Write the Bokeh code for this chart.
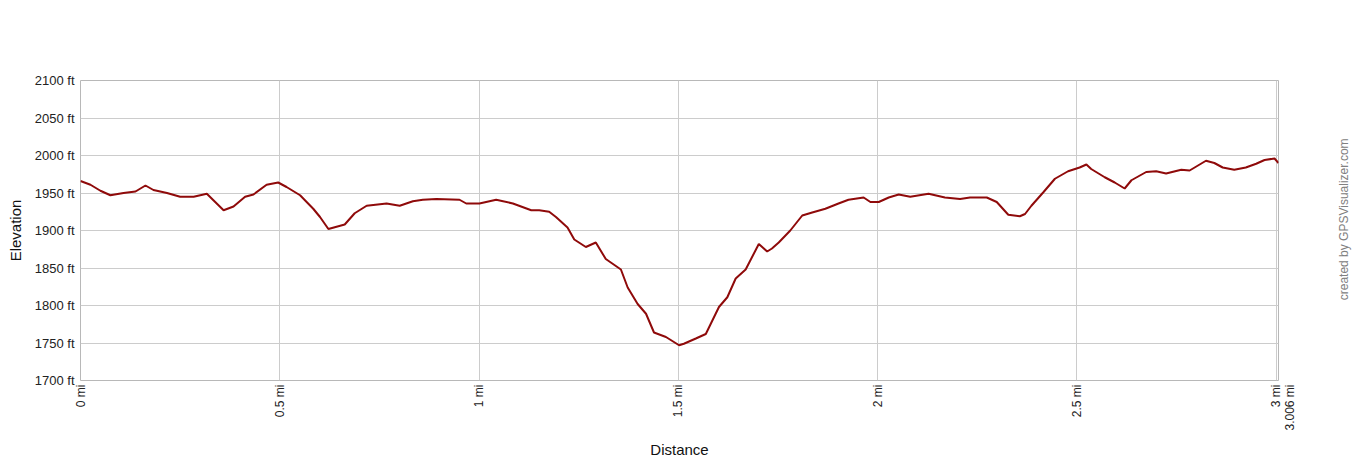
import math
from bokeh.plotting import figure
from bokeh.models import Range1d, FixedTicker, LinearAxis, ColumnDataSource
from bokeh.embed import file_html
from bokeh.resources import INLINE

# Data
distance_mi = [0.000, 0.025, 0.050, 0.075, 0.108, 0.138, 0.163, 0.183, 0.217, 0.250,
               0.284, 0.317, 0.338, 0.359, 0.384, 0.413, 0.434, 0.467, 0.496, 0.517,
               0.551, 0.584, 0.601, 0.622, 0.663, 0.688, 0.718, 0.768, 0.801, 0.834,
               0.859, 0.893, 0.951, 0.968, 1.001, 1.043, 1.085, 1.131, 1.151, 1.176,
               1.193, 1.222, 1.239, 1.268, 1.293, 1.318, 1.356, 1.373, 1.398, 1.419,
               1.439, 1.469, 1.502, 1.514, 1.544, 1.569, 1.602, 1.623, 1.644, 1.669,
               1.702, 1.723, 1.735, 1.752, 1.781, 1.811, 1.836, 1.869, 1.902, 1.927,
               1.965, 1.982, 2.003, 2.028, 2.053, 2.082, 2.128, 2.169, 2.207, 2.232,
               2.274, 2.299, 2.328, 2.357, 2.370, 2.386, 2.416, 2.445, 2.478, 2.507,
               2.524, 2.536, 2.570, 2.595, 2.620, 2.637, 2.674, 2.699, 2.724, 2.762,
               2.783, 2.824, 2.845, 2.866, 2.895, 2.924, 2.950, 2.971, 2.996, 3.006]
elevation_ft = [1966, 1961, 1953, 1947, 1950, 1952, 1960, 1954, 1950, 1945,
                1945, 1949, 1938, 1927, 1932, 1945, 1948, 1961, 1964, 1958,
                1947, 1929, 1918, 1902, 1908, 1923, 1933, 1936, 1933, 1939,
                1941, 1942, 1941, 1936, 1936, 1941, 1936, 1927, 1927, 1925,
                1918, 1904, 1888, 1878, 1884, 1862, 1848, 1824, 1802, 1789,
                1764, 1758, 1747, 1749, 1756, 1762, 1798, 1811, 1836, 1848,
                1882, 1872, 1876, 1884, 1900, 1920, 1924, 1929, 1936, 1941,
                1944, 1938, 1938, 1944, 1948, 1945, 1949, 1944, 1942, 1944,
                1944, 1938, 1921, 1919, 1922, 1933, 1951, 1969, 1979, 1984,
                1988, 1982, 1971, 1964, 1956, 1967, 1978, 1979, 1976, 1981,
                1980, 1993, 1990, 1984, 1981, 1984, 1989, 1994, 1996, 1990]

total_distance = 3.006
x_ticks = [0, 0.5, 1, 1.5, 2, 2.5, 3, total_distance]
x_tick_labels = ["0 mi", "0.5 mi", "1 mi", "1.5 mi", "2 mi", "2.5 mi", "3 mi",
                 "\n3.006 mi"]
y_ticks = [1700, 1750, 1800, 1850, 1900, 1950, 2000, 2050, 2100]
y_tick_labels = ["1700 ft", "1750 ft", "1800 ft", "1850 ft", "1900 ft",
                 "1950 ft", "2000 ft", "2050 ft", "2100 ft"]
credit_text = "created by GPSVisualizer.com"

FONT = "Liberation Sans"

p = figure(width=1360, height=460, output_backend="svg", toolbar_location=None,
           x_range=Range1d(0, total_distance), y_range=Range1d(1700, 2100),
           min_border_left=80, min_border_right=80, min_border_top=80,
           min_border_bottom=80)

src = ColumnDataSource(dict(x=distance_mi, y=elevation_ft))
p.line("x", "y", source=src, line_color="#8f0a0a", line_width=2)

p.xaxis.ticker = FixedTicker(ticks=x_ticks)
p.yaxis.ticker = FixedTicker(ticks=y_ticks)
p.xaxis.major_label_overrides = {t: l for t, l in zip(x_ticks, x_tick_labels)}
p.yaxis.major_label_overrides = {t: l for t, l in zip(y_ticks, y_tick_labels)}

# right-side axis used only to carry the vertical credit text
credit_axis = LinearAxis(ticker=FixedTicker(ticks=[1807]),
                         major_label_overrides={1807: credit_text})
p.add_layout(credit_axis, "right")

for ax in (p.xaxis[0], p.yaxis[0], credit_axis):
    ax.major_tick_out = 0
    ax.major_tick_in = 0
    ax.minor_tick_out = 0
    ax.minor_tick_in = 0
    ax.axis_line_color = None
    ax.major_label_text_font = FONT
    ax.major_label_text_font_size = "12px"
    ax.major_label_text_color = "#222222"
    ax.axis_label_text_font = FONT
    ax.axis_label_text_font_size = "15px"
    ax.axis_label_text_font_style = "normal"
    ax.axis_label_text_color = "#111111"

credit_axis.major_label_text_color = "#808080"
credit_axis.major_label_orientation = math.pi / 2
credit_axis.major_label_standoff = 65

p.yaxis[0].major_label_text_font_size = "13px"
p.xaxis[0].axis_label = "Distance"
p.yaxis[0].axis_label = "Elevation"
p.xaxis[0].major_label_orientation = math.pi / 2
p.xaxis[0].major_label_text_line_height = 1.6
p.xaxis[0].major_label_standoff = 4
p.yaxis[0].major_label_standoff = 6
p.xaxis[0].axis_label_standoff = 7
p.yaxis[0].axis_label_standoff = 8

p.xgrid.grid_line_color = "#cccccc"
p.ygrid.grid_line_color = "#cccccc"
p.outline_line_color = "#b8b8b8"
p.outline_line_width = 1

open("out.html", "w").write(file_html(p, INLINE))
